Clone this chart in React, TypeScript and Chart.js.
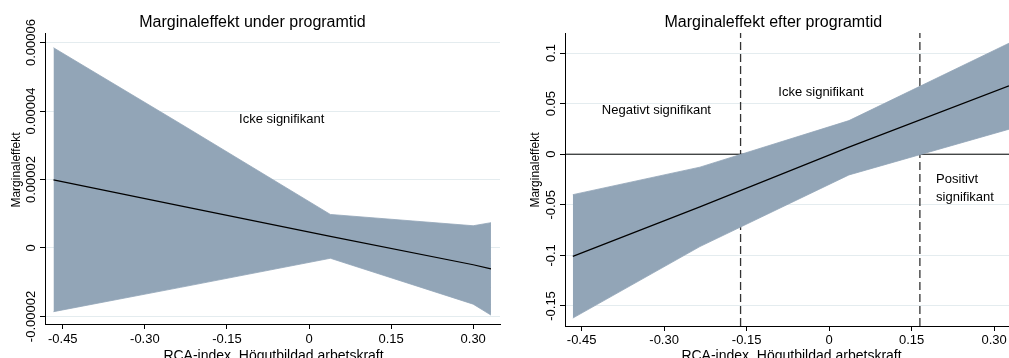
import React, { useEffect, useRef } from "react";
import { Chart, registerables } from "chart.js";

Chart.register(...registerables);

const FONT = "'Liberation Sans', Arial, Helvetica, sans-serif";
const BAND = "rgb(146,165,183)";
const GRID = "#e4ecef";

// ---- shared x axis ----
const xTicks = [-0.45, -0.3, -0.15, 0, 0.15, 0.3];
const xTickLabels = ["-0.45", "-0.30", "-0.15", "0", "0.15", "0.30"];
const xTitle = "RCA-index, Högutbildad arbetskraft";
const yTitle = "Marginaleffekt";

// ---- left panel: under programtid ----
const leftTitle = "Marginaleffekt under programtid";
const xLeft = [-0.467, -0.235, 0.039, 0.3, 0.3325];
const estLeft = [1.99e-5, 1.23e-5, 3.4e-6, -4.9e-6, -6.1e-6];
const upperLeft = [5.85e-5, 3.63e-5, 9.8e-6, 6.5e-6, 7.4e-6];
const lowerLeft = [-1.86e-5, -1.15e-5, -3.0e-6, -1.64e-5, -1.96e-5];
const yTicksLeft = [-0.00002, 0, 0.00002, 0.00004, 0.00006];
const yTickLabelsLeft = ["-0.00002", "0", "0.00002", "0.00004", "0.00006"];
const notesLeft = [{ text: "Icke signifikant", x: -0.05, y: 3.77e-5, align: "center" }];

// ---- right panel: efter programtid ----
const rightTitle = "Marginaleffekt efter programtid";
const xRight = [-0.466, -0.235, 0.036, 0.327];
const estRight = [-0.101, -0.052, 0.007, 0.0675];
const upperRight = [-0.04, -0.0128, 0.0332, 0.1097];
const lowerRight = [-0.162, -0.0913, -0.0205, 0.0247];
const yTicksRight = [-0.15, -0.1, -0.05, 0, 0.05, 0.1];
const yTickLabelsRight = ["-0.15", "-0.1", "-0.05", "0", "0.05", "0.1"];
const sigBounds = [-0.161, 0.165];
const notesRight = [
  { text: "Negativt signifikant", x: -0.314, y: 0.0428, align: "center" },
  { text: "Icke signifikant", x: -0.0149, y: 0.0606, align: "center" },
  { text: "Positivt", x: 0.1945, y: -0.0254, align: "left" },
  { text: "signifikant", x: 0.1945, y: -0.0429, align: "left" },
];

const pts = (xs: number[], ys: number[]) => xs.map((x, i) => ({ x, y: ys[i] }));

function decor(o: any) {
  return {
    id: "decor",
    afterDraw(chart: any) {
      const ctx = chart.ctx;
      const xs = chart.scales.x;
      const ys = chart.scales.y;
      ctx.save();
      ctx.fillStyle = "#000";
      // title
      ctx.font = `16px ${FONT}`;
      ctx.textAlign = "center";
      ctx.textBaseline = "alphabetic";
      ctx.fillText(o.title, o.titleX, o.titleY);
      // x title
      ctx.font = `14px ${FONT}`;
      ctx.fillText(xTitle, o.xTitleX, o.xTitleY);
      // rotated y tick labels
      ctx.font = `13px ${FONT}`;
      ctx.textBaseline = "middle";
      ys.ticks.forEach((t: any, i: number) => {
        const py = ys.getPixelForValue(t.value);
        ctx.save();
        ctx.translate(o.yLabelX, py);
        ctx.rotate(-Math.PI / 2);
        ctx.fillText(o.yLabels[i], 0, 0);
        ctx.restore();
      });
      // y title
      ctx.font = `12px ${FONT}`;
      ctx.save();
      ctx.translate(o.yTitleX, o.yTitleY);
      ctx.rotate(-Math.PI / 2);
      ctx.fillText(yTitle, 0, 0);
      ctx.restore();
      // annotations
      ctx.font = `13px ${FONT}`;
      ctx.textBaseline = "middle";
      o.notes.forEach((n: any) => {
        ctx.textAlign = n.align;
        ctx.fillText(n.text, xs.getPixelForValue(n.x), ys.getPixelForValue(n.y));
      });
      ctx.restore();
    },
  };
}

function makeScales(o: any) {
  return {
    x: {
      type: "linear",
      min: o.xMin,
      max: o.xMax,
      afterBuildTicks: (s: any) => {
        s.ticks = xTicks.map((v) => ({ value: v }));
      },
      afterFit: (s: any) => {
        s.height = o.xHeight;
      },
      ticks: {
        autoSkip: false,
        maxRotation: 0,
        minRotation: 0,
        padding: o.xPad,
        color: "#000",
        font: { family: FONT, size: 13 },
        callback: (_v: any, i: number) => xTickLabels[i],
      },
      grid: { display: true, drawOnChartArea: false, drawTicks: true, tickLength: 5, tickColor: "#000", tickWidth: 1 },
      border: { display: true, color: "#000", width: 1 },
    },
    y: {
      type: "linear",
      min: o.yMin,
      max: o.yMax,
      afterBuildTicks: (s: any) => {
        s.ticks = o.yTicks.map((v: number) => ({ value: v }));
      },
      afterFit: (s: any) => {
        s.width = o.yWidth;
      },
      ticks: { display: false },
      grid: { color: GRID, lineWidth: 1, drawTicks: true, tickLength: 5, tickColor: "#000", tickWidth: 1 },
      border: { display: true, color: "#000", width: 1 },
    },
  };
}

const bandSets = (xs: number[], lo: number[], up: number[], est: number[]) => [
  { label: "lower", data: pts(xs, lo), borderColor: BAND, borderWidth: 0.8, pointRadius: 0, fill: false, order: 2 },
  { label: "upper", data: pts(xs, up), borderColor: BAND, borderWidth: 0.8, backgroundColor: BAND, pointRadius: 0, fill: "-1", order: 2 },
  { label: "est", data: pts(xs, est), borderColor: "#000", borderWidth: 1.2, pointRadius: 0, fill: false, order: 1 },
];

function leftConfig(): any {
  const o = {
    xMin: -0.4825, xMax: 0.349, yMin: -0.0000222, yMax: 0.0000628,
    xHeight: 34, yWidth: 45, xPad: 3, yTicks: yTicksLeft,
  };
  return {
    type: "line",
    data: { datasets: bandSets(xLeft, lowerLeft, upperLeft, estLeft) },
    options: {
      animation: false,
      responsive: false,
      parsing: false,
      layout: { padding: { top: 33, right: 4, left: 0, bottom: 0 } },
      plugins: { legend: { display: false }, tooltip: { enabled: false }, title: { display: false } },
      elements: { line: { tension: 0 } },
      scales: makeScales(o),
    },
    plugins: [
      decor({
        title: leftTitle, titleX: 252.5, titleY: 27,
        xTitleX: 273.5, xTitleY: 359.5,
        yLabels: yTickLabelsLeft, yLabelX: 31.7,
        yTitleX: 16.7, yTitleY: 170,
        notes: notesLeft,
      }),
    ],
  };
}

function rightConfig(): any {
  const o = {
    xMin: -0.4802, xMax: 0.327, yMin: -0.1698, yMax: 0.1198,
    xHeight: 32, yWidth: 61, xPad: 2, yTicks: yTicksRight,
  };
  const refLine = { pointRadius: 0, fill: false, order: 3 };
  return {
    type: "line",
    data: {
      datasets: [
        ...bandSets(xRight, lowerRight, upperRight, estRight),
        { ...refLine, label: "zero", data: [{ x: o.xMin, y: 0 }, { x: o.xMax, y: 0 }], borderColor: "#000", borderWidth: 1 },
        ...sigBounds.map((b) => ({
          ...refLine,
          label: "bound",
          data: [{ x: b, y: o.yMin }, { x: b, y: o.yMax }],
          borderColor: "#333",
          borderWidth: 1.3,
          borderDash: [8, 4],
        })),
      ],
    },
    options: {
      animation: false,
      responsive: false,
      parsing: false,
      layout: { padding: { top: 33, right: 0, left: 0, bottom: 0 } },
      plugins: { legend: { display: false }, tooltip: { enabled: false }, title: { display: false } },
      elements: { line: { tension: 0 } },
      scales: makeScales(o),
    },
    plugins: [
      decor({
        title: rightTitle, titleX: 269.3, titleY: 27,
        xTitleX: 287.5, xTitleY: 360,
        yLabels: yTickLabelsRight, yLabelX: 47,
        yTitleX: 31.7, yTitleY: 170,
        notes: notesRight,
      }),
    ],
  };
}

function Panel({ makeConfig, left, width }: { makeConfig: () => any; left: number; width: number }) {
  const ref = useRef<HTMLCanvasElement>(null);
  useEffect(() => {
    const chart = new Chart(ref.current as HTMLCanvasElement, makeConfig());
    return () => chart.destroy();
  }, []);
  return (
    <canvas
      ref={ref}
      width={width}
      height={358}
      style={{ position: "absolute", left, top: 0, width, height: 358, display: "block" }}
    />
  );
}

export default function App() {
  return (
    <div style={{ position: "absolute", left: 0, top: 0, width: 1009, height: 358, background: "#fff", overflow: "hidden" }}>
      <Panel makeConfig={leftConfig} left={0} width={504} />
      <Panel makeConfig={rightConfig} left={504} width={505} />
    </div>
  );
}
